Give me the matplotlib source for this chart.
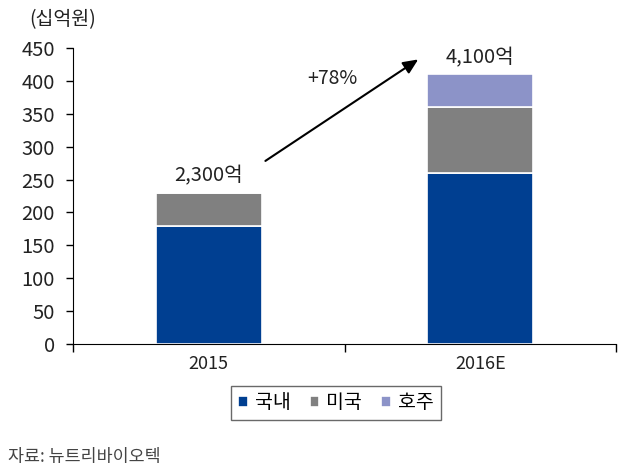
import matplotlib
matplotlib.use("Agg")
import matplotlib.pyplot as plt
from matplotlib.ticker import FixedLocator, NullFormatter, FixedFormatter

plt.rcParams['font.family'] = ['Noto Sans CJK KR', 'DejaVu Sans']

categories = ["2015", "2016E"]
series_names = ["국내", "미국", "호주"]
domestic = [180, 260]
usa = [50, 100]
australia = [0, 50]
totals_text = ["2,300억", "4,100억"]
growth_text = "+78%"
unit_text = "(십억원)"
source_text = "자료: 뉴트리바이오텍"
colors = ["#003F91", "#808080", "#8C93C8"]

fig = plt.figure(figsize=(6.22, 4.74), dpi=100)
ax = fig.add_axes([0.1174, 0.2743, 0.8730, 0.6244])

x = [0, 1]
w = 0.39
bottom = [0, 0]
for vals, name, c in zip([domestic, usa, australia], series_names, colors):
    ax.bar(x, vals, w, bottom=bottom, color=c, edgecolor="white", linewidth=1.2, label=name)
    bottom = [b + v for b, v in zip(bottom, vals)]

ax.set_xlim(-0.5, 1.5)
ax.set_ylim(0, 450)
ax.set_yticks(range(0, 451, 50))
ax.xaxis.set_major_locator(FixedLocator([-0.5, 0.5, 1.5]))
ax.xaxis.set_major_formatter(NullFormatter())
ax.xaxis.set_minor_locator(FixedLocator(x))
ax.xaxis.set_minor_formatter(FixedFormatter(categories))
ax.tick_params(axis="x", which="minor", length=0, labelsize=13, pad=8, labelcolor="#222222")
ax.tick_params(axis="x", which="major", length=6, direction="out", width=1)
ax.tick_params(axis="y", length=5, direction="out", labelsize=14.5, pad=8, width=1, labelcolor="#222222")
for lbl in ax.get_yticklabels() + ax.xaxis.get_minorticklabels():
    lbl.set_fontweight("light")
ax.spines["top"].set_visible(False)
ax.spines["right"].set_visible(False)

for xi, tot, t in zip(x, bottom, totals_text):
    ax.text(xi, tot + 25, t, ha="center", va="center", fontsize=14.5, fontweight="light", color="#222222")

ax.annotate("", xy=(0.78, 435), xytext=(0.2, 276),
            arrowprops=dict(arrowstyle="-|>,head_length=0.9,head_width=0.4", color="black", lw=1.5))
ax.text(0.455, 403, growth_text, ha="center", va="center", fontsize=14, fontweight="light", color="#222222")

fig.text(0.1, 0.958, unit_text, ha="center", va="center", fontsize=14, fontweight="light", color="#222222")
fig.text(0.013, 0.036, source_text, ha="left", va="center", fontsize=12.5, fontweight="light", color="#444444")

leg = ax.legend(loc="center", bbox_to_anchor=(0.484, -0.199), ncol=3, frameon=True, fancybox=False,
                fontsize=14, handlelength=0.5, handleheight=0.5, handletextpad=0.35, columnspacing=1.0,
                borderpad=0.35)
leg.get_frame().set_edgecolor("#444444")
leg.get_frame().set_linewidth(1.0)
for t in leg.get_texts():
    t.set_fontweight("light")

fig.savefig("out.png", dpi=100)
